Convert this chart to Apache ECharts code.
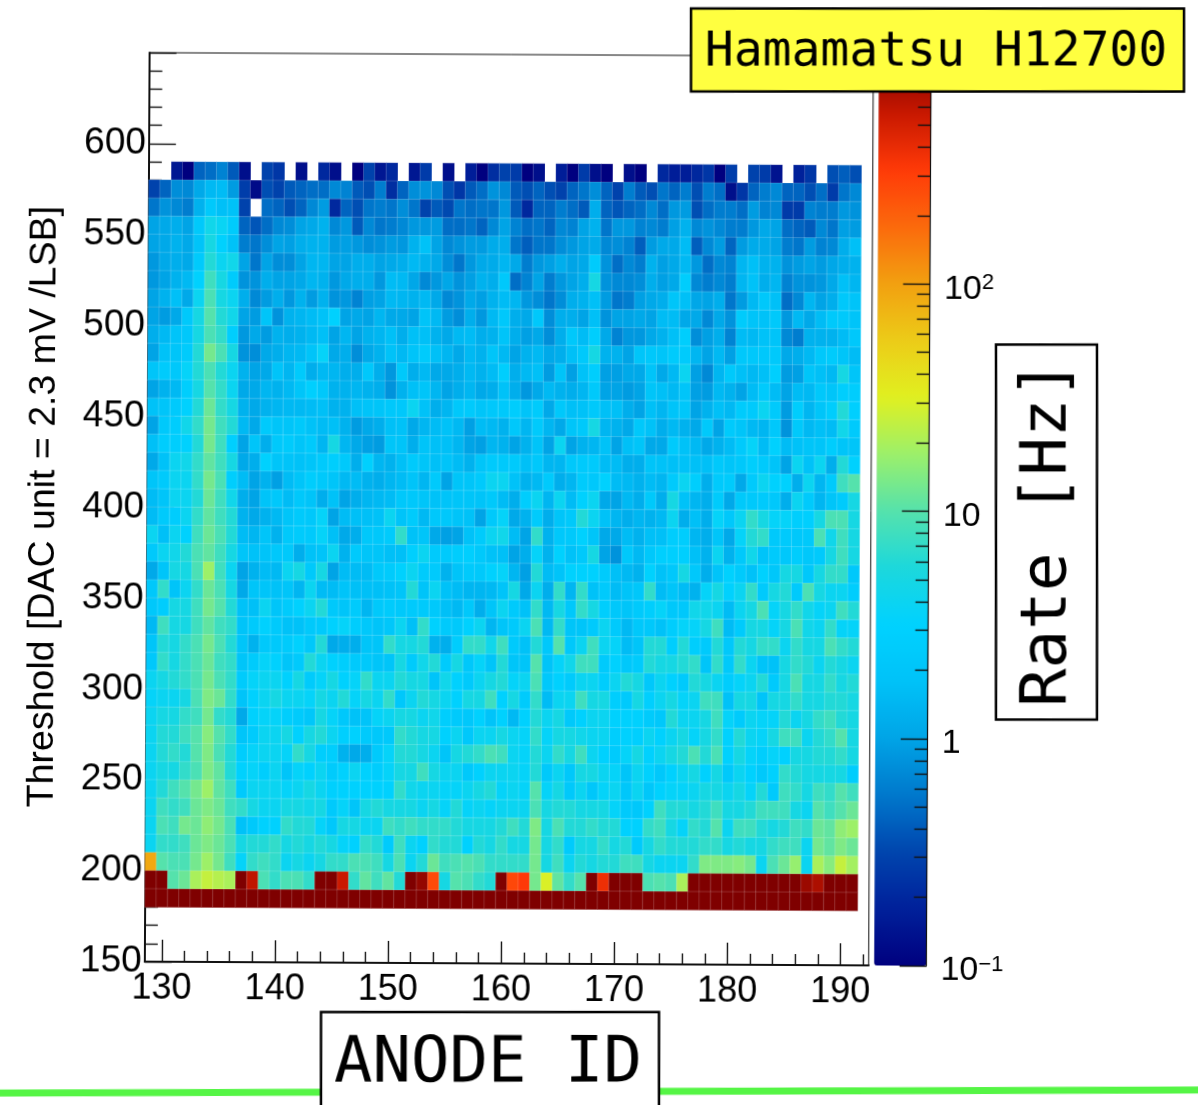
<!DOCTYPE html>
<html>
<head>
<meta charset="utf-8">
<style>
html,body{margin:0;padding:0;background:#fff;overflow:hidden;width:1198px;height:1105px}
#c{position:absolute;left:-40px;top:-40px;width:1278px;height:1185px;transform-origin:639px 592.5px;transform:rotate(0.3deg)}
</style>
<script src="https://cdn.jsdelivr.net/npm/echarts@6/dist/echarts.min.js"></script>
</head>
<body>
<div id="c"></div>
<script>
const _=null;
const row580=[_,_,.15,.1,.45,.5,.65,.4,.13,_,.3,.25,_,.13,_,.2,.13,_,.1,.3,.15,.2,_,.15,.27,_,.13,_,.17,.1,.22,.3,.27,.1,.13,_,.17,.1,.27,.13,.1,_,.13,.1,_,.2,.17,.17,.2,.25,.1,.28,_,.3,.27,.14,_,.18,.25,_,.35,.42,.35];
const row570=[.3,.45,.75,.7,1.1,1.5,1.6,.9,.28,.12,.35,.3,.4,.45,.5,.5,.7,.65,.4,.35,.6,.22,.45,.75,.8,.7,.35,.25,.4,.5,.8,.7,.4,.35,.45,.35,.3,.45,.55,.75,.45,.3,.6,.4,.35,.55,.45,.6,.35,.6,.5,.13,.25,.45,.6,.7,.45,.45,.35,.5,.27,.55,.7];
const row560=[.55,.8,.7,.6,1.3,2.3,1.7,1.8,.3,_,.5,.45,.35,.45,.7,.9,.2,.45,.35,.55,.6,.55,.75,.55,.3,.4,.33,.55,.5,.55,.55,.85,.4,.2,.45,.45,.6,.5,.4,1.2,.45,.38,.45,.5,.7,.5,.85,.9,.35,.5,.6,.6,.5,.9,.65,.7,.27,.27,.65,.6,.6,.85,.8];
const row550=[1,1.1,1.2,1,2.3,4.5,3.8,2.5,.45,.38,.5,.7,.75,1,1.1,1.3,.7,.85,.4,.7,.55,.6,.7,.85,.85,.9,.5,.5,.55,.45,.7,1,.65,.5,.55,.45,.7,.65,1,1.3,.55,.85,.85,.65,.7,.6,.95,1.3,.7,.8,.7,.6,.6,.85,1.1,1,.5,.45,.4,.7,.55,.95,.9];
const row540=[1,1.1,1.3,1.1,1.9,5,3,1.8,.6,.55,.75,1,.95,1.2,1.3,1.3,.9,.95,.85,.75,.8,.9,.85,1.3,1.8,1,.7,.8,.9,.9,1.15,1.2,.55,.42,.55,.55,.75,.85,1,1.15,.7,.75,.65,.42,.9,1.1,1.1,1.6,.42,.7,.9,.45,.9,1.15,1.15,1,.6,.55,.9,.65,.7,1.2,1.7];
const row530=[.85,1.1,1.2,1.1,2.4,6,4,4.5,1,.55,1,.75,.75,1,1.4,1.4,1,1,1.2,1.2,1,1.1,1.2,1.5,1.3,1.1,.75,.55,.85,1.1,1.15,1.4,1.1,.6,.85,.95,1.2,1,1.1,2.5,.8,.5,.7,.6,1.3,.95,1.1,1.5,.85,.5,.7,.65,1.4,1.7,1.3,1.3,.8,.9,1,.9,1.05,1.2,1.3];
const row520=[.85,1,1.3,1.5,3,8,5,2.5,.8,.8,1.2,1,1,1.1,1.4,1.3,.85,1.1,1.2,1.2,.85,1.6,1.5,1.05,.7,.85,1.05,.8,.95,1.3,1.2,2.2,.5,.65,1,.6,.85,1,1.2,5,.8,.7,.7,.75,1.2,.95,1.1,2.6,.7,.6,.7,.6,1.4,1.8,1.2,1.4,.65,.8,.8,.85,1.1,1.7,1.4];
const row510=[1,1.3,1.7,1.1,4,9,5,4,1.2,.7,.9,1.2,.85,1.3,.9,1.3,.8,.85,.65,.95,1,1.5,1.4,1.3,1.5,1.1,.7,.8,1.1,.95,1.3,1.6,1.4,.85,.75,.55,.75,1.2,1.3,1.7,.9,.55,.6,.95,1.1,1.2,2,1.7,1.05,1,1.2,.55,.9,1.5,2.2,1.7,.5,.7,1.4,1,1.2,2.2,1.9];
const row500=[1,.9,1.1,2.3,5,10,6,4.5,1,.9,2,.8,1.3,1.4,1.6,1.8,3,1,1.1,1,1.4,1.1,1.1,1,1.9,1.5,.9,.75,1.2,.85,1.5,2.2,1.2,1.1,2.2,.75,1.2,1.2,1,1.7,.8,1,1,1.1,1,1.6,1.6,1.1,1.1,.7,1.1,.8,2.5,1.9,1.8,2.3,.85,1.5,1.1,1.6,2.3,2.3,1.9];
const row490=[1.2,1.5,1.9,2.2,5,9,7,2.7,.85,1.1,.9,1.3,1.2,1.3,1.5,1.7,1,1.4,1,1.3,1.4,1.7,1.2,1.7,1.7,1.3,1.1,1.5,1.6,1.2,1.3,1.9,1.2,.95,1.1,.75,1.2,2.2,1.6,2.7,1.1,.65,.85,.85,1.1,1.3,1.7,2.7,.75,.95,1.2,.65,1.6,1.5,1.8,1.9,.7,.6,1.3,1.3,1.3,1.6,2.2];
const row480=[1,1.8,2,2.5,6,13,9,5,.8,.75,1.1,1.2,1.4,1.5,1.9,3.5,1.1,1.2,.75,1.1,1.3,1.8,1.5,1.9,2.5,1.7,1.4,1.1,1.5,1.3,2,1.5,1,1.3,1.5,1.1,1.2,1.7,2.3,5,1.3,1.3,1,2,2.2,2,2.5,2.5,1.4,1,1.5,.95,2.2,2.2,2.2,2.3,1.1,1.2,1.5,2.2,2.5,2,1.6];
const row470=[2,2.5,2.2,3.5,6,9,6,4,1.3,1,1.1,1.9,1.4,2.4,1.2,1.5,1.4,1.2,1.2,2.2,1.2,.85,2.3,1.2,1.5,1.1,1.1,1.2,1.5,1.3,1.6,2.7,1.2,1.5,1.7,.9,1.9,.95,1.8,2.7,.95,.95,1.1,1.1,1.9,1.1,1.5,4,.95,.7,1.4,2.3,1.7,1.5,1.7,2.8,.9,.95,2,1.7,1.5,5,2];
const row460=[1,1.3,1.5,2.7,5,10,7,4,1.1,1.1,1.4,1.3,1.5,2,2.8,2.2,1.3,1.3,1.4,1.3,1.2,.8,1.3,1.7,2,1.4,1,1.2,1.4,1.1,1.2,1.8,1.2,.85,1.1,1.5,1.3,1.2,1.4,2.3,1,1,.9,1,2,1.7,1.5,2,.95,.9,1.5,1.3,1,1.6,2.4,1.6,1,1.6,1.5,2.2,2,2.7,2.6];
const row450=[1.8,2,2.4,3,6,12,7,5,1.3,1.1,1.3,1.4,1.5,1.5,1.6,1.7,1.3,1.3,1.7,1.9,2,2.2,2.2,4,1.8,1.2,1.4,2.2,2.4,2,2.2,2.3,2.6,1.9,2.5,1.1,2.2,1.7,1.8,2.3,1.7,1.7,1.2,1,1.7,1.4,1.9,2.1,1,1.3,1.7,1.5,2.5,2.4,4,2.4,.9,2.6,1.4,2,2.6,6,2.8];
const row440=[1,2.3,2.6,4.5,7,13,8,6,1.5,1.1,2.4,2,2,2.3,1.8,1.6,1.7,1.3,.9,1.1,1.2,1.7,1.8,1.1,1.4,1.6,1.8,1.5,.95,1.6,1.5,1.3,2.2,1.4,2.4,1.4,1.1,2,2.3,5,1.4,1.3,1.1,2.2,1.8,1.2,1.5,1.3,1.1,2.3,1,2.4,2,1.5,1.4,2.2,.8,2.3,1.5,1.7,1.6,4.5,2.4];
const row430=[1.7,2.6,2.7,3,6,13,8,2.8,1,2,1.2,2.3,2.5,2,2.4,1.4,5,1.4,1.1,.95,.9,2,1.9,1.2,1.9,1.7,1.7,1.4,1,.95,1.4,1.3,1,1.3,1.9,1,4,1,1.3,1.4,1.8,1,1.7,2,1.1,1.1,2.4,1.8,1.5,1.1,1.3,1.6,2.4,3.5,1.6,3,1.6,1.8,2,2,2.6,2,2];
const row420=[1.1,1.8,4,4.5,7,11,8,5,1.1,1.2,3,2,1.9,1.8,2,2.4,2.7,2.3,1.2,2.9,1.4,1.3,1.7,2.4,2,1.7,1.9,1.6,1.3,2,2.4,2.3,2.4,1.7,2.2,1.4,1.4,2.2,2.4,2.4,1.6,1.6,1.2,1.2,1.9,1.8,1.7,1.8,1.7,1.7,2.3,2,2.2,2.7,2.4,1.9,1,4,1.8,4,1.2,6,3];
const row410=[2,2.4,4,4,7,13,9,2.7,1.6,1,1.3,.95,1.6,2,2.6,2.3,2,1.5,1.6,1.3,1.2,1.4,1.6,1.9,1.4,2.4,1,2,2,2.4,4,4,1.8,1.3,1.5,2.4,1.2,1.4,2.5,2.2,3,1.6,1.5,1.3,1.6,1.4,2.4,4,2.7,1.2,2.4,2.5,1.1,2.4,4,3,3,1.2,4,1.4,2.4,8,10];
const row400=[1.6,2,4,4,6,12,8,4.5,1.2,1,1.9,2.2,1.6,2.2,1.9,1.2,1.8,1,1.2,1.4,1.5,1.6,2.2,2.2,2,1.8,1.9,2,2,1.9,2.3,1.6,1.2,2.6,4,1.4,4,1.6,3,4,1.1,1,1.5,1.2,2.3,1.2,5,1.8,1.4,1.2,2.5,1.1,2.3,2.3,2.4,2.2,1.2,4,2.4,1.4,2,2.5,5];
const row390=[1.6,2.4,2.6,4,7,11,8,6,1.3,1.1,1.3,1.5,2,2.4,2.2,3.5,1,1.6,1.7,1.7,1.8,4,1.9,2.5,1.5,2.2,2.2,1.9,1.8,1,2.3,3.5,1.1,1.3,2.5,1.2,2,2.3,6,4,1.8,1.4,1.2,1.4,1.3,1.5,4,1.2,1.7,1.2,3.5,2.2,4,7,5,3.5,3.5,2.7,2.8,5,9,9,5];
const row380=[4,1.7,4,3,8,12,9,6,1.6,1.4,2,1.3,2.3,2.5,2.4,3.5,1.7,1.1,1.2,2.2,2.2,2.5,7,1.8,2,1.1,.95,1,1.8,2.5,4,4.5,1.6,1,7,1.3,2.2,2.3,3,2,1.1,1.1,1.6,1.3,1.7,1.7,2.6,2.6,1.4,1.2,2,1.1,3.5,6,7,2.3,2.4,2.2,2.3,9,4.5,8,5];
const row370=[2.3,4,4.5,6,9,11,8,5,2,1.8,1.9,2.2,2.3,1.2,1.8,1.9,4,1.3,2.4,2,2,1.7,1.7,2.8,4,2.4,2.4,2.6,2.8,2.3,1.8,1.7,1,1.2,3.5,1.3,3,1.8,2.3,5,1,.8,2.2,1.5,2.2,2.8,2.8,2.8,1.7,1.3,4,1.3,2.3,4.5,1.9,2.4,2.2,2.6,2.2,2.4,5,8,5];
const row360=[1.1,2,5,5,9,18,8,4,1,1.3,1.6,1.5,4,5,2.3,5,1,1.6,1.6,1.6,2.3,2.5,3,4,2.5,2.4,1.3,1.9,2.4,2.3,3,3.5,1.4,.95,6,1.6,1.9,3,3,3,2.5,1.7,1.5,1.3,3,1.8,2.2,5,2.2,1.2,1.9,3,2.4,1.8,3,2.1,5,5,2.2,5,7,7,2.2];
const row350=[2.2,7,1.9,4,7,12,9,5,1.1,2,2,1.8,2,1.4,4,1.6,1.6,1.9,1.7,1.7,1.7,1.8,2,6,1.9,4,1.8,1.6,1.4,1.4,1.5,1.9,5,1.1,4,1.2,7,1.4,7,1.8,2.4,1.6,1.9,2.1,7,1.6,2,1.6,1.3,3.5,5,3,4,7,2.4,5,6,2.4,9,5,4,4,2.6];
const row340=[2.2,2.6,5,5,8,13,10,6,1.8,1.7,4,2,2.5,3,4,6,2.3,2,2.5,1.4,2.3,2.5,2.3,2.4,2.4,2.3,1.7,1.5,2.2,1.2,2,4,2.4,1.8,7,1.5,5,2.2,7,5,2.7,2.2,2,2.4,2.7,3.5,2.2,2.2,4.5,4.5,4,1.6,4,5,9,3.5,5,7,4.5,3.5,4,8,6];
const row330=[1.5,8,5,5,8,11,8,7,1.9,2.4,3,2.4,1.8,1.8,2.3,2.4,3,3.5,2.6,2.2,1.9,2.1,4,1.7,7,3,2.4,2.3,3,4,1.4,2,2.4,4,9,1.5,7,2,2,2.4,4,2.4,1.5,2.2,2.2,1.8,2.6,3.5,3.5,5,8,1.6,2.5,5,5,3.5,5,9,4.5,4,7,3.5,3.5];
const row320=[2,6,5,7,9,13,9,6,2,1.3,2.3,2.3,2.5,3,2.2,6,1.1,1.2,1.2,2,2,7,5,5,6,1.3,1.2,2.6,7,7,4.5,8,2.4,1.8,6,2.2,10,2.2,4,8,4,3.5,1.6,2,6,6,2.7,6,2.7,2.4,6,2.2,6,5,7,7,4,7,5,5,9,7,6];
const row310=[2.2,7,5,7,9,12,8,7,2,2.5,3.5,3,2,2.4,6,4,3,2.7,2.4,2.3,2,2,5,2.5,4.5,6,2.5,5,2.2,3.5,2,6,2,2,10,1.9,3.5,4.5,8,8,2.4,3,2.2,2.5,6,5,5,6,7,2,7,2.3,7,4,1.9,1.8,5,7,6,4,6,5,4];
const row300=[4,5,6,7,9,13,9,7,2.5,3.5,4,4,3,5,2.5,3.5,5,3,3.5,7,4,4,6,5,5,1.9,4.5,3,2.4,4,5,6,3.5,4,9,2.2,3,2.5,4,4,2.6,4,6,5,2.2,4,3,2.4,6,5,4,2.6,3.5,4,6,2.4,5,9,5,5,7,5,6];
const row290=[3.5,4,4,5,9,14,12,7,1.9,3,4,5,4,4,3.5,5,4,6,3.5,5,4,7,2.2,4,6,5,4,3,5,5,8,3,5,2.5,7,1.6,4,4,8,5,5,2.7,2.4,5,2.8,4,5,3.5,4,8,8,1.8,5,5,1.9,5,5,7,5,5,6,6,5];
const row280=[4,5,5,7,8,13,7,6,1.1,3,3.5,3.5,2.7,2.5,2.1,5,3.5,2.2,1.8,1.9,3.5,4,5,5,4,4.5,2.7,2.4,2.2,3,1.9,3,1.5,3,6,4,5,2.3,3,4,4,3,3,3,2.5,2.2,6,4,4,5,8,3.5,2.5,4,3.5,3.5,6,4,5,7,8,6,5];
const row270=[4,6,6,8,10,15,10,7,2,2.5,4,4,5,3,5,6,4,2.8,3,2.4,2.2,2.3,7,6,5,5,3,4,2.2,4,4,5,4,3.5,7,3.5,5,5,4.5,4,4,2.7,3,2.8,4,3,4,5,3.5,5,7,3,6,4,3.5,5,8,8,4,6,7,10,5];
const row260=[4,6,7,6,10,14,9,6,2.6,3.5,4,4,3.5,7,5,2.7,2.7,1.3,1.1,1.2,2.4,3.5,6,6,5,4,2,5,6,7,9,8,4,3.5,6,4,7,5,8,4,3,2.5,3.5,5,3,4,5,6,9,6,9,3,5,3.5,2.7,3.5,3,5,5,6,6,7,5];
const row250=[4,5,5,7,9,14,11,6,3,3.5,2.7,4,2,3.5,3,4,2.5,3,4,3,2.6,3.5,5,5,8,5,4,4,2.3,3,4,4,4,3.5,6,2.3,4,2.2,5,5,4,3.5,2,4,3,2.2,3,4,5,3,5,2.3,4,3,2.3,3,7,6,5,5,5,5,2.6];
const row240=[4,6,8,10,13,18,11,8,2.4,4,4,4,3.5,4,5,4,2.9,3,3,3,3,3,7,4.5,4,4,3.5,3.5,4,5,6,3.5,4,3.5,10,3.5,5,2.3,4,2.1,3.5,4,2.1,4,2.1,3,3.5,3.5,4,5,5,4,5,3.5,6,2.4,8,7,5,8,7,10,8];
const row230=[4,8,7,8,12,14,12,8,7,5,4,4,5,5,4.5,5,2.4,3.5,2,5,6,5,5,5,4,5,3.5,6,3.5,4,3.5,4,4,4,9,5,6,6,5,5,5,3.5,2.4,2.2,3,8,6,6,5,6,8,5,5,6,8,8,8,5,4,10,8,10,12];
const row220=[4,9,8,13,12,16,13,9,1.8,2.3,3,3,7,6,6,3.5,2.2,5,5,4,4,8,7,8,7,7,7,6,5,5,5,6,8,6,14,5,9,6,6,7,6,6,3,3,7,8,5,3.5,7,6,10,4,8,8,6,5,6,8,7,12,11,16,18];
const row210=[4,7,7,8,12,14,12,9,5,6,6,7,5,6,5,6,5,3.5,3,7,6,2.5,8,4,3,7,6,6,3,6,5,7,5,5,13,5,7,2.5,5,5,7,5,6,2.4,5,7,6,6,6,7,7,5,6,5,5,7,8,8,4,13,11,14,12];
const row200=[90,10,9,9,13,18,13,8,3.5,7,8,7,4,5,4,5,7,7,9,9,8,5,9,4,6,12,8,9,10,9,7,7,7,7,13,5,8,4,6,5,6,6,8,8,5,4,4,4,7,14,14,14,15,13,4,9,12,17,4,20,15,25,19];
const row190=[1000,1000,10,12,20,25,22,20,1000,600,9,7,9,9,7,1000,1000,550,7,11,8,11,6,1000,850,260,5,10,9,7,6,1000,270,320,13,30,11,7,10,1000,380,1000,1000,1000,9,10,9,20,1000,1000,1000,1000,1000,1000,1000,1000,1000,1000,800,700,1000,1000,1000];
const row180=[1000,1000,1000,1000,1000,1000,1000,1000,1000,1000,1000,1000,1000,1000,1000,1000,1000,1000,1000,1000,1000,1000,1000,1000,1000,1000,1000,1000,1000,1000,1000,1000,1000,1000,1000,1000,1000,1000,1000,1000,1000,1000,1000,1000,1000,1000,1000,1000,1000,1000,1000,1000,1000,1000,1000,1000,1000,1000,1000,1000,1000,1000,1000];

const rowThresholds=[580,570,560,550,540,530,520,510,500,490,480,470,460,450,440,430,420,410,400,390,380,370,360,350,340,330,320,310,300,290,280,270,260,250,240,230,220,210,200,190,180];
const rowRates=[row580,row570,row560,row550,row540,row530,row520,row510,row500,row490,row480,row470,row460,row450,row440,row430,row420,row410,row400,row390,row380,row370,row360,row350,row340,row330,row320,row310,row300,row290,row280,row270,row260,row250,row240,row230,row220,row210,row200,row190,row180];

const anodeBins=[];for(let a=129;a<=192;a++)anodeBins.push(String(a));
const thresholdBins=[];for(let t=150;t<650;t+=10)thresholdBins.push(String(t));
const xMajorTicks=[130,140,150,160,170,180,190];
const xMinorTicks=[132,134,136,138,142,144,146,148,152,154,156,158,162,164,166,168,172,174,176,178,182,184,186,188,192];
const zMajorTicks=[0.1,1,10,100];
const zMinorTicks=[0.2,0.3,0.4,0.5,0.6,0.7,0.8,0.9,2,3,4,5,6,7,8,9,20,30,40,50,60,70,80,90,200,300,400,500,600,700,800,900];
const rainbow=['#00007f','#00209a','#0045ae','#0078cc','#00a4e6','#00c2f8','#00d2ff','#1cd8dc','#55e2ac','#9cf06a','#e0f020','#eccc18','#f2a010','#fb6a0c','#ff3a08','#c81800','#7f0000'];

const PAD=40, ANGLE=0.3*Math.PI/180;
const P=v=>v+PAD;
const PLOT={left:146.8,top:55,width:724,height:909};
const BAR={left:876.2,top:55,width:52.5,height:909};
const sans='Liberation Sans', mono='DejaVu Sans Mono', ink='#111';

const cells=[];
rowRates.forEach((row,r)=>{
  const yi=thresholdBins.indexOf(String(rowThresholds[r]));
  row.forEach((v,c)=>{ if(v!==null) cells.push([c,yi,Math.log10(v)]); });
});

const tickLine={color:ink,width:1.4};
const axisLine={show:true,onZero:false,lineStyle:{color:ink,width:2}};
const chart=echarts.init(document.getElementById('c'),null,{renderer:'canvas'});
chart.setOption({
  animation:false,
  backgroundColor:'#fff',
  grid:[
    {left:P(PLOT.left),top:P(PLOT.top),width:PLOT.width,height:PLOT.height,show:true,borderColor:ink,borderWidth:1,backgroundColor:'transparent',containLabel:false},
    {left:P(BAR.left),top:P(BAR.top),width:BAR.width,height:BAR.height,show:false}
  ],
  xAxis:[
    {type:'category',gridIndex:0,data:anodeBins,show:false},
    {type:'value',gridIndex:0,min:128.5,max:192.5,position:'bottom',axisLine,splitLine:{show:false},
      axisTick:{show:true,inside:true,length:22,lineStyle:tickLine,customValues:xMajorTicks},
      axisLabel:{show:true,customValues:xMajorTicks,fontFamily:sans,fontSize:36,color:'#000',margin:9,showMinLabel:true,showMaxLabel:true}},
    {type:'value',gridIndex:0,min:128.5,max:192.5,position:'bottom',axisLine:{show:false,onZero:false},splitLine:{show:false},
      axisTick:{show:true,inside:true,length:11,lineStyle:tickLine,customValues:xMinorTicks},axisLabel:{show:false}},
    {type:'value',gridIndex:1,min:0,max:1,show:false}
  ],
  yAxis:[
    {type:'category',gridIndex:0,data:thresholdBins,show:false},
    {type:'value',gridIndex:0,min:150,max:650,interval:50,position:'left',axisLine,splitLine:{show:false},
      name:'Threshold [DAC unit = 2.3 mV /LSB]',nameLocation:'middle',nameGap:84,nameTextStyle:{fontFamily:sans,fontSize:37.5,color:'#000'},
      axisTick:{show:true,inside:true,length:27,lineStyle:tickLine},
      minorTick:{show:true,splitNumber:5,length:13,lineStyle:tickLine},
      axisLabel:{fontFamily:sans,fontSize:37,color:'#000',margin:3,padding:[3,0,0,0],formatter:v=>v===650?'':String(v)}},
    {type:'value',gridIndex:1,z:10,min:-1,max:3,position:'right',axisLine:{show:true,onZero:false,lineStyle:{color:ink,width:1.2}},splitLine:{show:false},
      axisTick:{show:true,inside:true,length:27,lineStyle:tickLine,customValues:zMajorTicks.map(Math.log10)},
      axisLabel:{show:true,customValues:zMajorTicks.map(Math.log10),margin:14,padding:[10,0,0,0],color:'#000',fontFamily:sans,fontSize:34,
        formatter:v=>{const e=Math.round(v);return e===0?'{n|1}':e===1?'{n|10}':e===2?'{n|10}{s|2}':'{n|10}{s|\u22121}';},
        rich:{n:{fontFamily:sans,fontSize:34,color:'#000'},s:{fontFamily:sans,fontSize:22,color:'#000',verticalAlign:'top',padding:[0,0,12,0]}}}},
    {type:'value',gridIndex:1,z:10,min:-1,max:3,position:'right',axisLine:{show:false,onZero:false},splitLine:{show:false},
      axisTick:{show:true,inside:true,length:13,lineStyle:tickLine,customValues:zMinorTicks.map(Math.log10)},axisLabel:{show:false}}
  ],
  visualMap:{type:'continuous',min:-1,max:3,dimension:2,seriesIndex:0,calculable:false,hoverLink:false,
    orient:'vertical',left:P(BAR.left),top:P(BAR.top),itemWidth:BAR.width,itemHeight:BAR.height,padding:0,text:null,showLabel:false,
    inRange:{color:rainbow}},
  series:[{type:'heatmap',xAxisIndex:0,yAxisIndex:0,data:cells,progressive:0,silent:true,
    itemStyle:{borderColor:'rgba(255,255,255,0.28)',borderWidth:0.6},emphasis:{disabled:true}}],
  graphic:{elements:[{type:'group',rotation:ANGLE,originX:P(599),originY:P(552.5),children:[
    {type:'line',z:50,shape:{x1:P(-10),y1:P(1093),x2:P(1210),y2:P(1090)},style:{stroke:'#55f545',lineWidth:7}},
    {type:'rect',z:60,shape:{x:P(321),y:P(1012),width:338,height:110},style:{fill:'#fff',stroke:'#000',lineWidth:2.5}},
    {type:'text',z:61,x:P(488),y:P(1065),style:{text:'ANODE ID',font:'64px "'+mono+'"',fill:'#000',align:'center',verticalAlign:'middle'}},
    {type:'rect',z:60,shape:{x:P(691),y:P(8.5),width:493,height:83},style:{fill:'#ffff40',stroke:'#000',lineWidth:2.5}},
    {type:'text',z:61,x:P(936),y:P(53),style:{text:'Hamamatsu H12700',font:'48px "'+mono+'"',fill:'#000',align:'center',verticalAlign:'middle'}},
    {type:'rect',z:60,shape:{x:P(996),y:P(344.5),width:101,height:375},style:{fill:'#fff',stroke:'#000',lineWidth:2.5}},
    {type:'text',z:61,x:P(1049),y:P(533.5),rotation:Math.PI/2,style:{text:'Rate [Hz]',font:'64px "'+mono+'"',fill:'#000',align:'center',verticalAlign:'middle'}}
  ]}]}
});
</script>
</body>
</html>
